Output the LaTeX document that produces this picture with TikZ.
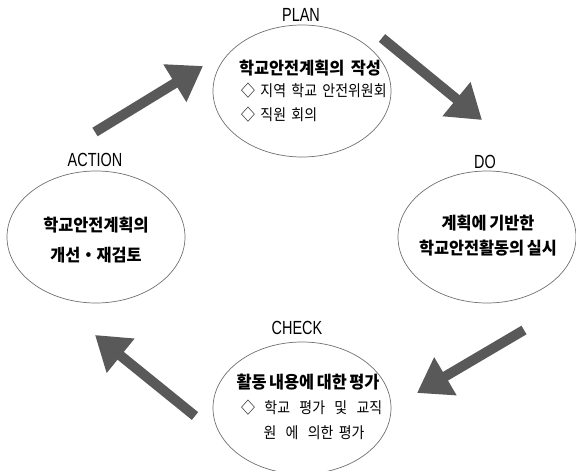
\documentclass[tikz,border=0pt]{standalone}
\usepackage{fontspec}
\usetikzlibrary{shapes.geometric,arrows.meta}
\newfontfamily\krfont[FakeStretch=0.96,WordSpace=0.7]{Noto Sans CJK KR}
\newfontfamily\krlight[FakeStretch=0.9,WordSpace=1.7]{Noto Sans CJK KR}
\newfontfamily\labfont[FakeStretch=0.76]{Liberation Sans}
\newcommand{\xsp}{\hspace{4pt}}
\definecolor{arrowgray}{HTML}{595959}
\definecolor{linegray}{HTML}{707070}
\tikzset{
  oval/.style={draw=linegray, line width=0.7pt, ellipse, minimum width=178pt, minimum height=132pt, inner sep=0pt},
  phase/.style={font=\labfont\fontsize{19}{21}\selectfont, inner sep=0pt},
  boldtxt/.style={font=\krfont\bfseries\fontsize{17}{19}\selectfont, inner sep=0pt},
  lighttxt/.style={font=\krlight\fontsize{15.5}{18}\selectfont, inner sep=0pt},
  bigarrow/.style={draw=arrowgray, line width=10pt, line cap=butt, -{Triangle[length=33pt,width=42pt]}}
}
\begin{document}
\begin{tikzpicture}[x=1pt,y=-1pt]
\useasboundingbox (0,0) rectangle (576,471);
\begin{scope}
\clip (0,0) rectangle (576,471);
% ellipses
\node[oval] (plan) at (302,91) {};
\node[oval] (do) at (487,237) {};
\node[oval] (check) at (302,408) {};
\node[oval] (action) at (96,237) {};
\end{scope}
% phase labels
\node[phase] (planlab) at (301,15) {PLAN};
\node[phase] (dolab) at (485,162) {DO};
\node[phase] (checklab) at (297,328) {CHECK};
\node[phase] (actionlab) at (95,160) {ACTION};
% PLAN text
\node[boldtxt, anchor=west] (p1) at (239,68) {학교안전계획의\hspace{4pt} 작성};
\node[lighttxt, anchor=west] (p2) at (241,91) {◇ 지역 학교 안전위원회};
\node[lighttxt, anchor=west] (p3) at (241,115) {◇ 직원 회의};
% DO text
\node[boldtxt] (d1) at (488,223) {계획에 기반한};
\node[boldtxt] (d2) at (488,248) {학교안전활동의 실시};
% CHECK text
\node[boldtxt] (c1) at (308,382) {활동 내용에 대한 평가};
\node[lighttxt, anchor=west] (c2) at (241,408) {◇\xsp{} 학교\xsp{} 평가\xsp{} 및\xsp{} 교직};
\node[lighttxt] (c3) at (314,433) {원\xsp{} 에\xsp{} 의한 평가};
% ACTION text
\node[boldtxt] (a1) at (96,225) {학교안전계획의};
\node[boldtxt] (a2) at (96,255) {개선・재검토};
% arrows
\coordinate (t1) at (95,132);  \coordinate (h1) at (203,66);
\coordinate (t2) at (382,38);  \coordinate (h2) at (482,120);
\coordinate (t3) at (524,330); \coordinate (h3) at (417,393);
\coordinate (t4) at (195,416); \coordinate (h4) at (95,335);
\draw[bigarrow] (t1) -- (h1);
\draw[bigarrow] (t2) -- (h2);
\draw[bigarrow] (t3) -- (h3);
\draw[bigarrow] (t4) -- (h4);
\end{tikzpicture}
\end{document}
